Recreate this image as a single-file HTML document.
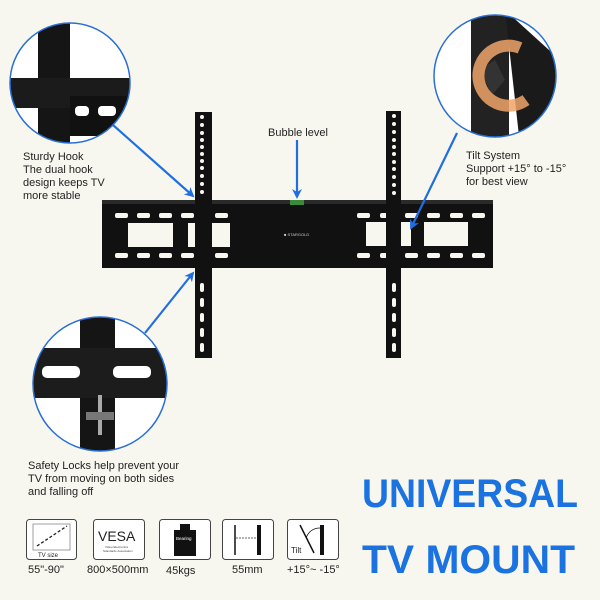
<!DOCTYPE html>
<html><head><meta charset="utf-8"><style>
html,body{margin:0;padding:0;background:#f8f7ef;}
svg{display:block;}
text{font-family:"Liberation Sans","DejaVu Sans",sans-serif;}
</style></head><body>
<svg width="600" height="600" viewBox="0 0 600 600" xmlns="http://www.w3.org/2000/svg">
<defs>
<clipPath id="c1"><circle cx="70" cy="83" r="60"/></clipPath>
<clipPath id="c2"><circle cx="495" cy="76" r="61"/></clipPath>
<clipPath id="c3"><circle cx="100" cy="384" r="67"/></clipPath>
<marker id="ar" markerWidth="10" markerHeight="10" refX="8" refY="5" orient="auto" markerUnits="userSpaceOnUse"><path d="M0,0 L10,5 L0,10 L3,5 Z" fill="#1f6fe0"/></marker>
</defs>
<rect width="600" height="600" fill="#f8f7ef"/>

<!-- main plate -->
<rect x="102" y="200" width="391" height="68" fill="#111"/>
<rect x="102" y="200" width="391" height="4" fill="#2a2a2a"/>
<g fill="#f8f7ef">
<rect x="115" y="213" width="13" height="5" rx="2"/><rect x="137" y="213" width="13" height="5" rx="2"/><rect x="159" y="213" width="13" height="5" rx="2"/><rect x="181" y="213" width="13" height="5" rx="2"/><rect x="215" y="213" width="13" height="5" rx="2"/>
<rect x="115" y="253" width="13" height="5" rx="2"/><rect x="137" y="253" width="13" height="5" rx="2"/><rect x="159" y="253" width="13" height="5" rx="2"/><rect x="181" y="253" width="13" height="5" rx="2"/><rect x="215" y="253" width="13" height="5" rx="2"/>
<rect x="128" y="223" width="45" height="24"/><rect x="188" y="223" width="42" height="24"/>
<rect x="357" y="213" width="13" height="5" rx="2"/><rect x="380" y="213" width="13" height="5" rx="2"/><rect x="405" y="213" width="13" height="5" rx="2"/><rect x="427" y="213" width="13" height="5" rx="2"/><rect x="450" y="213" width="13" height="5" rx="2"/><rect x="472" y="213" width="13" height="5" rx="2"/>
<rect x="357" y="253" width="13" height="5" rx="2"/><rect x="380" y="253" width="13" height="5" rx="2"/><rect x="405" y="253" width="13" height="5" rx="2"/><rect x="427" y="253" width="13" height="5" rx="2"/><rect x="450" y="253" width="13" height="5" rx="2"/><rect x="472" y="253" width="13" height="5" rx="2"/>
<rect x="366" y="222" width="45" height="24"/><rect x="424" y="222" width="44" height="24"/>
</g>
<rect x="290" y="200" width="14" height="5" fill="#3a8a3a"/>
<text x="284" y="236" font-size="4" fill="#ccc">■ STARGOLD</text>

<!-- vertical strips -->
<rect x="195" y="112" width="17" height="246" fill="#111"/>
<rect x="386" y="111" width="15" height="247" fill="#111"/>
<g fill="#f8f7ef">
<circle cx="202" cy="117" r="2"/><circle cx="202" cy="125" r="2"/><circle cx="202" cy="133" r="2"/><circle cx="202" cy="140" r="2"/><circle cx="202" cy="147" r="2"/><circle cx="202" cy="154" r="2"/><circle cx="202" cy="161" r="2"/><circle cx="202" cy="168" r="2"/><circle cx="202" cy="176" r="2"/><circle cx="202" cy="184" r="2"/><circle cx="202" cy="192" r="2"/>
<rect x="200" y="283" width="4" height="9" rx="2"/><rect x="200" y="298" width="4" height="9" rx="2"/><rect x="200" y="313" width="4" height="9" rx="2"/><rect x="200" y="328" width="4" height="9" rx="2"/><rect x="200" y="343" width="4" height="9" rx="2"/>
<circle cx="394" cy="116" r="2"/><circle cx="394" cy="124" r="2"/><circle cx="394" cy="132" r="2"/><circle cx="394" cy="140" r="2"/><circle cx="394" cy="147" r="2"/><circle cx="394" cy="154" r="2"/><circle cx="394" cy="162" r="2"/><circle cx="394" cy="169" r="2"/><circle cx="394" cy="177" r="2"/><circle cx="394" cy="185" r="2"/><circle cx="394" cy="193" r="2"/>
<rect x="392" y="283" width="4" height="9" rx="2"/><rect x="392" y="298" width="4" height="9" rx="2"/><rect x="392" y="313" width="4" height="9" rx="2"/><rect x="392" y="328" width="4" height="9" rx="2"/><rect x="392" y="343" width="4" height="9" rx="2"/>
</g>

<!-- circle 1 -->
<g clip-path="url(#c1)">
<rect x="0" y="0" width="140" height="150" fill="#fff"/>
<rect x="38" y="20" width="32" height="130" fill="#151515"/>
<rect x="0" y="78" width="140" height="30" fill="#1b1b1b"/>
<rect x="70" y="96" width="70" height="40" fill="#111"/>
<rect x="75" y="106" width="14" height="10" rx="4" fill="#fff"/>
<rect x="98" y="106" width="18" height="10" rx="4" fill="#fff"/>
</g>
<circle cx="70" cy="83" r="60" fill="none" stroke="#2a6fd6" stroke-width="1.5"/>

<!-- circle 2 -->
<g clip-path="url(#c2)">
<rect x="430" y="10" width="130" height="135" fill="#fff"/>
<rect x="471" y="10" width="38" height="135" fill="#222"/>
<path d="M505,10 L560,60 L560,145 L520,145 Z" fill="#1a1a1a"/>
<path d="M480,70 L495,60 L505,80 L492,95 Z" fill="#333"/>
<path d="M520,48 A30,30 0 1,0 526,100" fill="none" stroke="#f0a468" stroke-width="12" opacity="0.85"/>
</g>
<circle cx="495" cy="76" r="61" fill="none" stroke="#2a6fd6" stroke-width="1.5"/>

<!-- circle 3 -->
<g clip-path="url(#c3)">
<rect x="30" y="315" width="140" height="140" fill="#fff"/>
<rect x="80" y="315" width="35" height="140" fill="#151515"/>
<rect x="30" y="348" width="140" height="50" fill="#1c1c1c"/>
<rect x="42" y="366" width="38" height="12" rx="5" fill="#fff"/>
<rect x="113" y="366" width="38" height="12" rx="5" fill="#fff"/>
<rect x="98" y="395" width="4" height="40" fill="#aaa"/>
<rect x="86" y="412" width="28" height="8" fill="#777"/>
</g>
<circle cx="100" cy="384" r="67" fill="none" stroke="#2a6fd6" stroke-width="1.5"/>

<!-- arrows -->
<g stroke="#1f6fe0" stroke-width="2.2" fill="none">
<line x1="113" y1="125" x2="193" y2="196" marker-end="url(#ar)"/>
<line x1="297" y1="140" x2="297" y2="197" marker-end="url(#ar)"/>
<line x1="457" y1="133" x2="411" y2="228" marker-end="url(#ar)"/>
<line x1="145" y1="333" x2="193" y2="273" marker-end="url(#ar)"/>
</g>

<!-- labels -->
<g font-size="11" fill="#222">
<text x="23" y="160">Sturdy Hook</text>
<text x="23" y="173">The dual hook</text>
<text x="23" y="186">design keeps TV</text>
<text x="23" y="199">more stable</text>
<text x="268" y="136">Bubble level</text>
<text x="466" y="159">Tilt System</text>
<text x="466" y="172">Support +15° to -15°</text>
<text x="466" y="185">for best view</text>
<text x="28" y="469">Safety Locks help prevent your</text>
<text x="28" y="482"> TV from moving on both sides</text>
<text x="28" y="495">and falling off</text>
</g>

<text x="362" y="507" font-size="40" font-weight="bold" fill="#1a73e0" textLength="216" lengthAdjust="spacingAndGlyphs">UNIVERSAL</text>
<text x="362" y="573" font-size="40" font-weight="bold" fill="#1a73e0" textLength="213" lengthAdjust="spacingAndGlyphs">TV MOUNT</text>

<!-- icons -->
<g fill="#fff" stroke="#444" stroke-width="1">
<rect x="26.5" y="519.5" width="50" height="40" rx="3"/>
<rect x="93.5" y="519.5" width="51" height="40" rx="3"/>
<rect x="159.5" y="519.5" width="51" height="40" rx="3"/>
<rect x="222.5" y="519.5" width="51" height="40" rx="3"/>
<rect x="287.5" y="519.5" width="51" height="40" rx="3"/>
</g>
<rect x="33" y="524" width="37" height="26" fill="none" stroke="#888" stroke-width="0.8"/>
<line x1="37" y1="546" x2="67" y2="526" stroke="#222" stroke-width="1.3" stroke-dasharray="3,2"/>
<text x="38" y="557" font-size="6" fill="#222">TV size</text>
<text x="98" y="541" font-size="14" font-family="Liberation Serif,serif" fill="#222">VESA</text>
<text x="105" y="548" font-size="3" fill="#444">Video Electronics</text>
<text x="103" y="552" font-size="3" fill="#444">Standards Association</text>
<rect x="180" y="524" width="10" height="6" fill="#111"/>
<rect x="174" y="530" width="22" height="26" fill="#111"/>
<text x="176" y="540" font-size="4.5" fill="#fff">Bearing</text>
<line x1="235" y1="525" x2="235" y2="555" stroke="#111" stroke-width="1.5"/>
<rect x="257" y="525" width="4" height="30" fill="#111"/>
<line x1="236" y1="538" x2="256" y2="538" stroke="#333" stroke-width="0.8" stroke-dasharray="2,1"/>
<line x1="300" y1="525" x2="314" y2="553" stroke="#111" stroke-width="1.5"/>
<rect x="320" y="525" width="4" height="30" fill="#111"/>
<path d="M306,538 Q310,528 320,528" fill="none" stroke="#111" stroke-width="0.8"/>
<text x="291" y="553" font-size="8" fill="#222">Tilt</text>

<g font-size="11" fill="#222">
<text x="28" y="573">55"-90"</text>
<text x="87" y="573">800×500mm</text>
<text x="166" y="574">45kgs</text>
<text x="232" y="573">55mm</text>
<text x="287" y="573">+15°~ -15°</text>
</g>
</svg>
</body></html>
